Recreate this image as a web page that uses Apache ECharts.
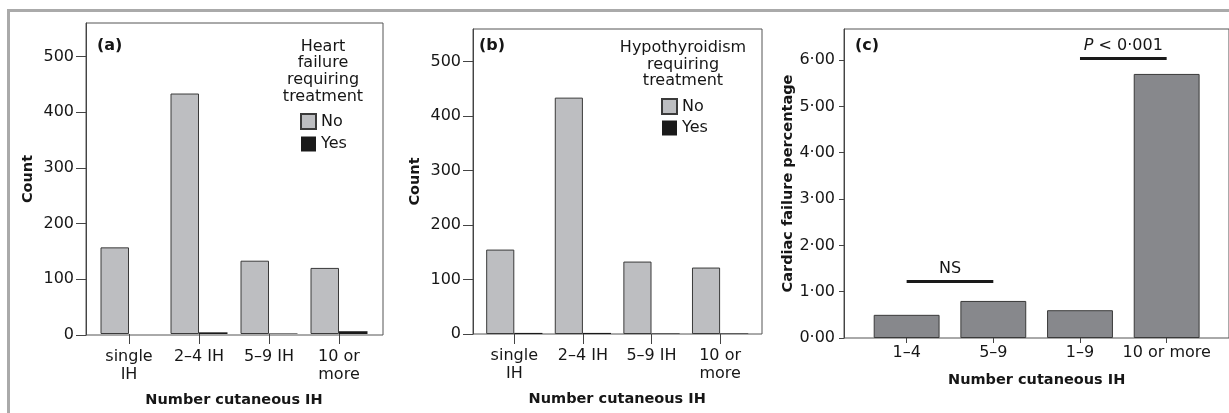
<!DOCTYPE html>
<html>
<head>
<meta charset="utf-8">
<script src="https://cdn.jsdelivr.net/npm/echarts@6/dist/echarts.min.js"></script>
<style>
html, body { margin: 0; padding: 0; background: #fff; }
#chart { width: 1229px; height: 413px; }
</style>
</head>
<body>
<div id="chart"></div>
<script>
// categories and values
var groupCats = ['single\nIH', '2–4 IH', '5–9 IH', '10 or\nmore'];
var heartNo = [156, 433, 132, 119];
var heartYes = [0, 3, 1, 5];
var thyroidNo = [155, 434, 133, 122];
var thyroidYes = [2, 2, 1, 1];
var cardiacCats = ['1–4', '5–9', '1–9', '10 or more'];
var cardiacPct = [0.50, 0.80, 0.60, 5.70];
var countTicks = [0, 100, 200, 300, 400, 500];
var pctTicks = [0, 1, 2, 3, 4, 5, 6];
// significance bars in panel (c)
var brackets = [
  { from: '1–4', to: '5–9', y: 1.22, text: 'NS' },
  { from: '1–9', to: '10 or more', y: 6.03, text: '{i|P} < 0·001' }
];

var FONT = 'DejaVu Sans';
var lightGray = '#bdbec1';
var darkGray = '#87888c';
var edge = '#3a3a3a';
var txt = '#161616';

var chart = echarts.init(document.getElementById('chart'));

// frame grid (border + y axis) and data grid (bars + category axis) for each panel
function frameY(idx, max, ticks, name, gap, tickLen, margin, fmt) {
  return {
    gridIndex: idx, type: 'value', min: 0, max: max,
    name: name, nameLocation: 'middle', nameGap: gap,
    nameTextStyle: { fontFamily: FONT, fontSize: 14.5, fontWeight: 'bold', color: txt },
    axisLine: { show: true, lineStyle: { color: '#444', width: 1 } },
    axisTick: { show: true, length: tickLen, customValues: ticks, lineStyle: { color: '#444' } },
    axisLabel: { customValues: ticks, margin: margin, fontFamily: FONT, fontSize: 16, color: txt, formatter: fmt },
    splitLine: { show: false }
  };
}
function hiddenY(idx, max) {
  return { gridIndex: idx, type: 'value', min: 0, max: max, show: false, splitLine: { show: false } };
}
function hiddenX(idx) {
  return { gridIndex: idx, type: 'value', show: false, splitLine: { show: false } };
}
function catX(idx, cats, tickLen, margin, gap) {
  return {
    gridIndex: idx, type: 'category', data: cats,
    name: 'Number cutaneous IH', nameLocation: 'middle', nameGap: gap,
    nameTextStyle: { fontFamily: FONT, fontSize: 14.5, fontWeight: 'bold', color: txt },
    axisLine: { show: false },
    axisTick: { show: true, alignWithLabel: true, length: tickLen, lineStyle: { color: '#444' } },
    axisLabel: { margin: margin, fontFamily: FONT, fontSize: 16, lineHeight: 18, color: txt, interval: 0 },
    splitLine: { show: false }
  };
}
function frameGrid(l, t, w, h) {
  return { left: l, top: t, width: w, height: h, show: true, borderColor: '#555', borderWidth: 1, backgroundColor: 'transparent' };
}
function dataGrid(l, t, w, h) {
  return { left: l, top: t, width: w, height: h, show: false };
}
function pctFmt(v) { return v.toFixed(2).replace('.', '·'); }

var markData = brackets.map(function (b) {
  return [
    { coord: [cardiacCats.indexOf(b.from), b.y], name: b.text },
    { coord: [cardiacCats.indexOf(b.to), b.y] }
  ];
});

var labelStyle = { fontFamily: FONT, fontSize: 16, color: txt };

chart.setOption({
  animation: false,
  textStyle: { fontFamily: FONT },
  graphic: [{
    type: 'rect', silent: true,
    shape: { x: 8.5, y: 10.5, width: 1260, height: 450 },
    style: { fill: 'none', stroke: '#aaaaaa', lineWidth: 3 }
  }],
  title: [
    { text: '(a)', left: 97, top: 38, padding: 0, textStyle: { fontFamily: FONT, fontSize: 16, fontWeight: 'bold', color: txt } },
    { text: '(b)', left: 479, top: 38, padding: 0, textStyle: { fontFamily: FONT, fontSize: 16, fontWeight: 'bold', color: txt } },
    { text: '(c)', left: 855, top: 38, padding: 0, textStyle: { fontFamily: FONT, fontSize: 16, fontWeight: 'bold', color: txt } },
    { text: 'Heart\nfailure\nrequiring\ntreatment', left: 323, top: 38, padding: 0, textAlign: 'center',
      textStyle: { fontFamily: FONT, fontSize: 16, fontWeight: 'normal', lineHeight: 16.7, color: txt } },
    { text: 'Hypothyroidism\nrequiring\ntreatment', left: 683, top: 40, padding: 0, textAlign: 'center',
      textStyle: { fontFamily: FONT, fontSize: 16, fontWeight: 'normal', lineHeight: 16.5, color: txt } }
  ],
  legend: [
    { data: ['No', 'Yes'], orient: 'vertical', left: 300, top: 113, padding: 0, itemWidth: 15, itemHeight: 15, itemGap: 6,
      icon: 'rect', textStyle: labelStyle, selectedMode: false },
    { data: ['No', 'Yes'], orient: 'vertical', left: 661, top: 98, padding: 0, itemWidth: 15, itemHeight: 15, itemGap: 5,
      icon: 'rect', textStyle: labelStyle, selectedMode: false }
  ],
  grid: [
    frameGrid(86, 23, 297, 312),
    dataGrid(94, 23, 280, 312),
    frameGrid(473, 29, 289, 305),
    dataGrid(480, 29, 274.4, 305),
    frameGrid(844, 29, 420, 309),
    dataGrid(863.3, 29, 346.7, 309)
  ],
  xAxis: [
    hiddenX(0),
    catX(1, groupCats, 10, 14, 59),
    hiddenX(2),
    catX(3, groupCats, 10, 13, 58),
    hiddenX(4),
    catX(5, cardiacCats, 5, 6, 35)
  ],
  yAxis: [
    frameY(0, 560, countTicks, 'Count', 50, 10, 12),
    hiddenY(1, 560),
    frameY(2, 560, countTicks, 'Count', 50, 10, 12),
    hiddenY(3, 560),
    frameY(4, 6.67, pctTicks, 'Cardiac failure percentage', 48, 5, 9, pctFmt),
    hiddenY(5, 6.67)
  ],
  series: [
    { name: 'No', type: 'bar', xAxisIndex: 1, yAxisIndex: 1, data: heartNo, barGap: '0%', barCategoryGap: '18.6%',
      itemStyle: { color: lightGray, borderColor: edge, borderWidth: 1 } },
    { name: 'Yes', type: 'bar', xAxisIndex: 1, yAxisIndex: 1, data: heartYes, barGap: '0%', barCategoryGap: '18.6%',
      itemStyle: { color: '#1a1a1a', borderWidth: 0 } },
    { name: 'No', type: 'bar', xAxisIndex: 3, yAxisIndex: 3, data: thyroidNo, barGap: '0%', barCategoryGap: '18%',
      itemStyle: { color: lightGray, borderColor: edge, borderWidth: 1 } },
    { name: 'Yes', type: 'bar', xAxisIndex: 3, yAxisIndex: 3, data: thyroidYes, barGap: '0%', barCategoryGap: '18%',
      itemStyle: { color: '#1a1a1a', borderWidth: 0 } },
    { name: 'pct', type: 'bar', xAxisIndex: 5, yAxisIndex: 5, data: cardiacPct, barCategoryGap: '24%',
      itemStyle: { color: darkGray, borderColor: edge, borderWidth: 1 },
      markLine: {
        silent: true, symbol: ['none', 'none'],
        lineStyle: { color: '#1a1a1a', width: 3, type: 'solid' },
        label: { show: true, position: 'middle', formatter: '{b}', distance: 5,
          fontFamily: FONT, fontSize: 16, color: txt,
          rich: { i: { fontFamily: FONT, fontSize: 16, fontStyle: 'italic', color: txt } } },
        emphasis: { disabled: true },
        data: markData
      }
    }
  ]
});
</script>
</body>
</html>
